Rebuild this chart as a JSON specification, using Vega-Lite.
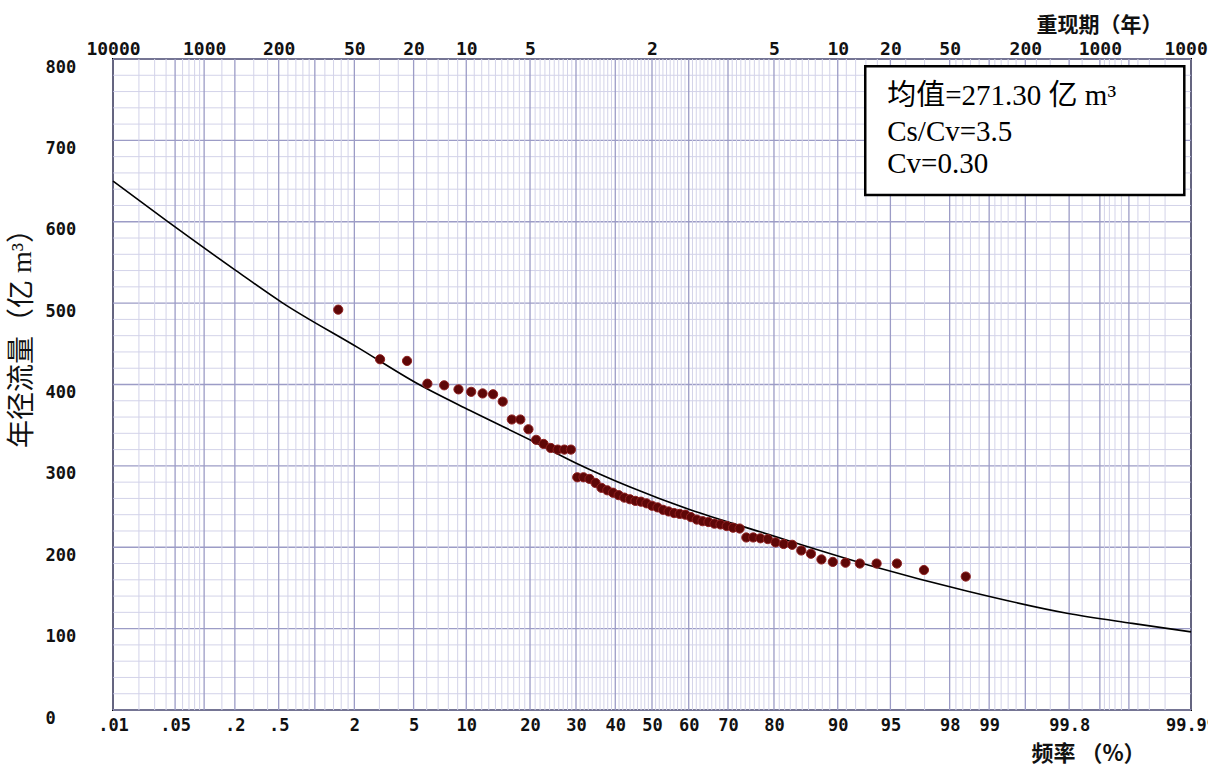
{
  "$schema": "https://vega.github.io/schema/vega-lite/v6.json",
  "width": 1078,
  "height": 651,
  "autosize": {"type": "none"},
  "padding": {"left": 113, "top": 59, "right": 17, "bottom": 60},
  "background": "white",
  "config": {
    "view": {"stroke": "#000", "strokeWidth": 2},
    "axis": {"labelOverlap": false, "labelFlush": false, "ticks": false, "domain": false, "grid": false}
  },
  "datasets": {
    "hgrid": [
      {"v": 0, "k": "major"}, {"v": 20, "k": "minor"}, {"v": 40, "k": "minor"}, {"v": 60, "k": "minor"}, {"v": 80, "k": "minor"},
      {"v": 100, "k": "major"}, {"v": 120, "k": "minor"}, {"v": 140, "k": "minor"}, {"v": 160, "k": "minor"}, {"v": 180, "k": "minor"},
      {"v": 200, "k": "major"}, {"v": 220, "k": "minor"}, {"v": 240, "k": "minor"}, {"v": 260, "k": "minor"}, {"v": 280, "k": "minor"},
      {"v": 300, "k": "major"}, {"v": 320, "k": "minor"}, {"v": 340, "k": "minor"}, {"v": 360, "k": "minor"}, {"v": 380, "k": "minor"},
      {"v": 400, "k": "major"}, {"v": 420, "k": "minor"}, {"v": 440, "k": "minor"}, {"v": 460, "k": "minor"}, {"v": 480, "k": "minor"},
      {"v": 500, "k": "major"}, {"v": 520, "k": "minor"}, {"v": 540, "k": "minor"}, {"v": 560, "k": "minor"}, {"v": 580, "k": "minor"},
      {"v": 600, "k": "major"}, {"v": 620, "k": "minor"}, {"v": 640, "k": "minor"}, {"v": 660, "k": "minor"}, {"v": 680, "k": "minor"},
      {"v": 700, "k": "major"}, {"v": 720, "k": "minor"}, {"v": 740, "k": "minor"}, {"v": 760, "k": "minor"}, {"v": 780, "k": "minor"},
      {"v": 800, "k": "major"}
    ],
    "grid": [
      {"p": 0.01, "k": "major"}, {"p": 0.05, "k": "major"}, {"p": 0.1, "k": "major"}, {"p": 0.2, "k": "major"}, {"p": 0.5, "k": "major"},
      {"p": 1, "k": "major"}, {"p": 2, "k": "major"}, {"p": 5, "k": "major"}, {"p": 10, "k": "major"}, {"p": 20, "k": "major"},
      {"p": 30, "k": "major"}, {"p": 40, "k": "major"}, {"p": 50, "k": "major"}, {"p": 60, "k": "major"}, {"p": 70, "k": "major"},
      {"p": 80, "k": "major"}, {"p": 90, "k": "major"}, {"p": 95, "k": "major"}, {"p": 98, "k": "major"}, {"p": 99, "k": "major"},
      {"p": 99.5, "k": "major"}, {"p": 99.8, "k": "major"}, {"p": 99.9, "k": "major"}, {"p": 99.95, "k": "major"}, {"p": 99.99, "k": "major"},
      {"p": 0.02, "k": "minor"}, {"p": 0.03, "k": "minor"}, {"p": 0.04, "k": "minor"}, {"p": 0.06, "k": "minor"}, {"p": 0.07, "k": "minor"},
      {"p": 0.08, "k": "minor"}, {"p": 0.09, "k": "minor"}, {"p": 0.15, "k": "minor"}, {"p": 0.3, "k": "minor"}, {"p": 0.4, "k": "minor"},
      {"p": 0.6, "k": "minor"}, {"p": 0.7, "k": "minor"}, {"p": 0.8, "k": "minor"}, {"p": 0.9, "k": "minor"}, {"p": 1.2, "k": "minor"},
      {"p": 1.4, "k": "minor"}, {"p": 1.6, "k": "minor"}, {"p": 1.8, "k": "minor"}, {"p": 3, "k": "minor"}, {"p": 4, "k": "minor"},
      {"p": 6, "k": "minor"}, {"p": 7, "k": "minor"}, {"p": 8, "k": "minor"}, {"p": 9, "k": "minor"},
      {"p": 11, "k": "minor"}, {"p": 12, "k": "minor"}, {"p": 13, "k": "minor"}, {"p": 14, "k": "minor"}, {"p": 15, "k": "minor"},
      {"p": 16, "k": "minor"}, {"p": 17, "k": "minor"}, {"p": 18, "k": "minor"}, {"p": 19, "k": "minor"},
      {"p": 21, "k": "minor"}, {"p": 22, "k": "minor"}, {"p": 23, "k": "minor"}, {"p": 24, "k": "minor"}, {"p": 25, "k": "minor"},
      {"p": 26, "k": "minor"}, {"p": 27, "k": "minor"}, {"p": 28, "k": "minor"}, {"p": 29, "k": "minor"},
      {"p": 31, "k": "minor"}, {"p": 32, "k": "minor"}, {"p": 33, "k": "minor"}, {"p": 34, "k": "minor"}, {"p": 35, "k": "minor"},
      {"p": 36, "k": "minor"}, {"p": 37, "k": "minor"}, {"p": 38, "k": "minor"}, {"p": 39, "k": "minor"},
      {"p": 41, "k": "minor"}, {"p": 42, "k": "minor"}, {"p": 43, "k": "minor"}, {"p": 44, "k": "minor"}, {"p": 45, "k": "minor"},
      {"p": 46, "k": "minor"}, {"p": 47, "k": "minor"}, {"p": 48, "k": "minor"}, {"p": 49, "k": "minor"},
      {"p": 51, "k": "minor"}, {"p": 52, "k": "minor"}, {"p": 53, "k": "minor"}, {"p": 54, "k": "minor"}, {"p": 55, "k": "minor"},
      {"p": 56, "k": "minor"}, {"p": 57, "k": "minor"}, {"p": 58, "k": "minor"}, {"p": 59, "k": "minor"},
      {"p": 61, "k": "minor"}, {"p": 62, "k": "minor"}, {"p": 63, "k": "minor"}, {"p": 64, "k": "minor"}, {"p": 65, "k": "minor"},
      {"p": 66, "k": "minor"}, {"p": 67, "k": "minor"}, {"p": 68, "k": "minor"}, {"p": 69, "k": "minor"},
      {"p": 71, "k": "minor"}, {"p": 72, "k": "minor"}, {"p": 73, "k": "minor"}, {"p": 74, "k": "minor"}, {"p": 75, "k": "minor"},
      {"p": 76, "k": "minor"}, {"p": 77, "k": "minor"}, {"p": 78, "k": "minor"}, {"p": 79, "k": "minor"},
      {"p": 81, "k": "minor"}, {"p": 82, "k": "minor"}, {"p": 83, "k": "minor"}, {"p": 84, "k": "minor"}, {"p": 85, "k": "minor"},
      {"p": 86, "k": "minor"}, {"p": 87, "k": "minor"}, {"p": 88, "k": "minor"}, {"p": 89, "k": "minor"},
      {"p": 91, "k": "minor"}, {"p": 92, "k": "minor"}, {"p": 93, "k": "minor"}, {"p": 94, "k": "minor"}, {"p": 96, "k": "minor"},
      {"p": 97, "k": "minor"}, {"p": 98.2, "k": "minor"}, {"p": 98.4, "k": "minor"}, {"p": 98.6, "k": "minor"}, {"p": 98.8, "k": "minor"},
      {"p": 99.1, "k": "minor"}, {"p": 99.2, "k": "minor"}, {"p": 99.3, "k": "minor"}, {"p": 99.4, "k": "minor"}, {"p": 99.6, "k": "minor"},
      {"p": 99.7, "k": "minor"}, {"p": 99.85, "k": "minor"}, {"p": 99.91, "k": "minor"}, {"p": 99.92, "k": "minor"}, {"p": 99.93, "k": "minor"},
      {"p": 99.94, "k": "minor"}, {"p": 99.96, "k": "minor"}, {"p": 99.97, "k": "minor"}, {"p": 99.98, "k": "minor"}
    ],
    "curve": [
      {"p": 0.01, "q": 650}, {"p": 0.0407, "q": 601}, {"p": 0.205, "q": 540}, {"p": 0.531, "q": 501},
      {"p": 2.14, "q": 445}, {"p": 5.23, "q": 401.5}, {"p": 10.47, "q": 368}, {"p": 20.67, "q": 330},
      {"p": 30.18, "q": 303}, {"p": 44.0, "q": 274}, {"p": 60.4, "q": 246}, {"p": 77.2, "q": 219},
      {"p": 93.27, "q": 178}, {"p": 98.53, "q": 146}, {"p": 99.79, "q": 119}, {"p": 99.954, "q": 106.5},
      {"p": 99.99, "q": 96}
    ],
    "obs": [
      {"p": 1.52, "q": 492}, {"p": 3.03, "q": 431}, {"p": 4.55, "q": 429}, {"p": 6.06, "q": 401}, {"p": 7.58, "q": 399},
      {"p": 9.09, "q": 394}, {"p": 10.61, "q": 391}, {"p": 12.12, "q": 389}, {"p": 13.64, "q": 388}, {"p": 15.15, "q": 379},
      {"p": 16.67, "q": 357}, {"p": 18.18, "q": 357}, {"p": 19.7, "q": 345}, {"p": 21.21, "q": 332}, {"p": 22.73, "q": 327},
      {"p": 24.24, "q": 322}, {"p": 25.76, "q": 320}, {"p": 27.27, "q": 320}, {"p": 28.79, "q": 320}, {"p": 30.3, "q": 286},
      {"p": 31.82, "q": 286}, {"p": 33.33, "q": 284}, {"p": 34.85, "q": 279}, {"p": 36.36, "q": 273}, {"p": 37.88, "q": 270},
      {"p": 39.39, "q": 267}, {"p": 40.91, "q": 264}, {"p": 42.42, "q": 261}, {"p": 43.94, "q": 259}, {"p": 45.45, "q": 257},
      {"p": 46.97, "q": 256}, {"p": 48.48, "q": 254}, {"p": 50.0, "q": 251}, {"p": 51.52, "q": 249}, {"p": 53.03, "q": 246},
      {"p": 54.55, "q": 244}, {"p": 56.06, "q": 242}, {"p": 57.58, "q": 241}, {"p": 59.09, "q": 240}, {"p": 60.61, "q": 237},
      {"p": 62.12, "q": 234}, {"p": 63.64, "q": 232}, {"p": 65.15, "q": 231}, {"p": 66.67, "q": 229}, {"p": 68.18, "q": 228},
      {"p": 69.7, "q": 226}, {"p": 71.21, "q": 224}, {"p": 72.73, "q": 223}, {"p": 74.24, "q": 212}, {"p": 75.76, "q": 212},
      {"p": 77.27, "q": 211}, {"p": 78.79, "q": 210}, {"p": 80.3, "q": 206}, {"p": 81.82, "q": 204}, {"p": 83.33, "q": 203},
      {"p": 84.85, "q": 196}, {"p": 86.36, "q": 192}, {"p": 87.88, "q": 185}, {"p": 89.39, "q": 182}, {"p": 90.91, "q": 181},
      {"p": 92.42, "q": 180}, {"p": 93.94, "q": 180}, {"p": 95.45, "q": 180}, {"p": 96.97, "q": 172}, {"p": 98.48, "q": 164}
    ],
    "box": [{"p1": 92.94, "p2": 99.988, "v1": 633, "v2": 791}],
    "notes": [
      {"p": 94.77, "v": 755, "label": "均值=271.30 亿 m³"},
      {"p": 94.77, "v": 710, "label": "Cs/Cv=3.5"},
      {"p": 94.77, "v": 671, "label": "Cv=0.30"}
    ]
  },
  "resolve": {"scale": {"x": "shared", "y": "shared"}, "axis": {"x": "independent", "y": "independent"}},
  "layer": [
    {
      "data": {"name": "hgrid"},
      "mark": {"type": "rule"},
      "encoding": {
        "y": {
          "field": "v", "type": "quantitative",
          "scale": {"domain": [0, 800], "nice": false, "zero": true},
          "axis": {
            "orient": "left",
            "values": [0, 100, 200, 300, 400, 500, 600, 700, 800],
            "format": "d",
            "labelFont": "DejaVu Sans Mono",
            "labelFontWeight": "bold",
            "labelFontSize": 17,
            "labelColor": "#111",
            "labelAlign": "left",
            "labelBaseline": "middle",
            "labelPadding": 68,
            "labelOffset": 8,
            "title": "年径流量（亿 m³）",
            "titleFont": "Liberation Serif, Noto Sans CJK SC",
            "titleFontWeight": "normal",
            "titleFontSize": 28,
            "titleColor": "#111",
            "titleAngle": -90,
            "titleX": -91,
            "titleY": 272,
            "titleAlign": "center",
            "titleBaseline": "middle"
          }
        },
        "stroke": {"field": "k", "type": "nominal", "scale": {"domain": ["major", "minor"], "range": ["#9c9cc6", "#d3d3e9"]}, "legend": null},
        "strokeWidth": {"field": "k", "type": "nominal", "scale": {"domain": ["major", "minor"], "range": [1.3, 1]}, "legend": null}
      }
    },
    {
      "data": {"name": "grid"},
      "transform": [{"calculate": "quantileNormal(datum.p / 100)", "as": "z"}],
      "mark": {"type": "rule"},
      "encoding": {
        "x": {
          "field": "z", "type": "quantitative",
          "scale": {"domain": [-3.719, 3.719], "nice": false, "zero": false},
          "axis": {
            "orient": "bottom",
            "values": [-3.719, -3.2905, -2.8782, -2.5758, -2.0537, -1.6449, -1.2816, -0.8416, -0.5244, -0.2533, 0, 0.2533, 0.5244, 0.8416, 1.2816, 1.6449, 2.0537, 2.3263, 2.8782, 3.719],
            "labelExpr": "round(cumulativeNormal(datum.value) * 10000) / 100 < 1 ? replace(toString(round(cumulativeNormal(datum.value) * 10000) / 100), '0.', '.') : toString(round(cumulativeNormal(datum.value) * 10000) / 100)",
            "labelFont": "DejaVu Sans Mono",
            "labelFontWeight": "bold",
            "labelFontSize": 17,
            "labelColor": "#111",
            "labelBaseline": "alphabetic",
            "labelPadding": 20,
            "title": "频率 （%）",
            "titleFont": "Noto Sans CJK SC",
            "titleFontWeight": "bold",
            "titleFontSize": 22,
            "titleColor": "#111",
            "titleX": 975,
            "titleY": 43,
            "titleAlign": "center",
            "titleBaseline": "middle"
          }
        },
        "stroke": {"field": "k", "type": "nominal", "scale": {"domain": ["major", "minor"], "range": ["#9c9cc6", "#d3d3e9"]}, "legend": null},
        "strokeWidth": {"field": "k", "type": "nominal", "scale": {"domain": ["major", "minor"], "range": [1.3, 1]}, "legend": null}
      }
    },
    {
      "data": {"name": "curve"},
      "transform": [{"calculate": "quantileNormal(datum.p / 100)", "as": "z"}],
      "mark": {"type": "line", "color": "#000", "strokeWidth": 1.6, "interpolate": "monotone"},
      "encoding": {
        "x": {
          "field": "z", "type": "quantitative",
          "scale": {"domain": [-3.719, 3.719], "nice": false, "zero": false},
          "axis": {
            "orient": "top",
            "values": [-3.719, -3.0902, -2.5758, -2.0537, -1.6449, -1.2816, -0.8416, 0, 0.8416, 1.2816, 1.6449, 2.0537, 2.5758, 3.0902, 3.719],
            "labelExpr": "format(round(100 / min(round(cumulativeNormal(datum.value) * 10000) / 100, 100 - round(cumulativeNormal(datum.value) * 10000) / 100)), 'd')",
            "labelFont": "DejaVu Sans Mono",
            "labelFontWeight": "bold",
            "labelFontSize": 18,
            "labelColor": "#111",
            "labelBaseline": "alphabetic",
            "labelPadding": 5,
            "title": "重现期（年）",
            "titleFont": "Noto Sans CJK SC",
            "titleFontWeight": "bold",
            "titleFontSize": 21,
            "titleColor": "#111",
            "titleX": 986,
            "titleY": -34,
            "titleAlign": "center",
            "titleBaseline": "middle"
          }
        },
        "y": {"field": "q", "type": "quantitative", "scale": {"domain": [0, 800], "nice": false, "zero": true}, "axis": null}
      }
    },
    {
      "data": {"name": "obs"},
      "transform": [{"calculate": "quantileNormal(datum.p / 100)", "as": "z"}],
      "mark": {"type": "circle", "size": 85, "fill": "#5e0707", "stroke": "#8f2020", "strokeWidth": 1, "opacity": 1},
      "encoding": {
        "x": {"field": "z", "type": "quantitative", "scale": {"domain": [-3.719, 3.719], "nice": false, "zero": false}, "axis": null},
        "y": {"field": "q", "type": "quantitative", "scale": {"domain": [0, 800], "nice": false, "zero": true}, "axis": null}
      }
    },
    {
      "data": {"name": "box"},
      "transform": [
        {"calculate": "quantileNormal(datum.p1 / 100)", "as": "z1"},
        {"calculate": "quantileNormal(datum.p2 / 100)", "as": "z2"}
      ],
      "mark": {"type": "rect", "fill": "#fff", "stroke": "#000", "strokeWidth": 2.5},
      "encoding": {
        "x": {"field": "z1", "type": "quantitative", "scale": {"domain": [-3.719, 3.719], "nice": false, "zero": false}, "axis": null},
        "x2": {"field": "z2"},
        "y": {"field": "v1", "type": "quantitative", "scale": {"domain": [0, 800], "nice": false, "zero": true}, "axis": null},
        "y2": {"field": "v2"}
      }
    },
    {
      "data": {"name": "notes"},
      "transform": [{"calculate": "quantileNormal(datum.p / 100)", "as": "z"}],
      "mark": {"type": "text", "align": "left", "baseline": "middle", "font": "Liberation Serif, Noto Sans CJK SC", "fontSize": 29, "color": "#000"},
      "encoding": {
        "x": {"field": "z", "type": "quantitative", "scale": {"domain": [-3.719, 3.719], "nice": false, "zero": false}, "axis": null},
        "y": {"field": "v", "type": "quantitative", "scale": {"domain": [0, 800], "nice": false, "zero": true}, "axis": null},
        "text": {"field": "label", "type": "nominal"}
      }
    }
  ]
}
